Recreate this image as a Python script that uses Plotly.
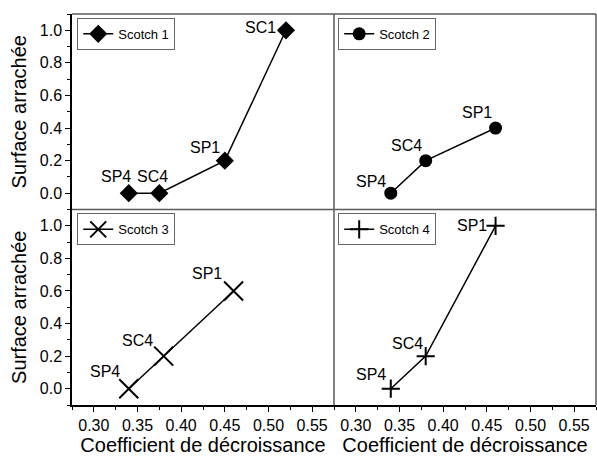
import plotly.graph_objects as go
from plotly.subplots import make_subplots

# ---- data ----
series_names = ["Scotch 1", "Scotch 2", "Scotch 3", "Scotch 4"]

s1_labels = ["SP4", "SC4", "SP1", "SC1"]
s1_x = [0.34, 0.375, 0.45, 0.52]
s1_y = [0.0, 0.0, 0.2, 1.0]

s2_labels = ["SP4", "SC4", "SP1"]
s2_x = [0.34, 0.38, 0.46]
s2_y = [0.0, 0.2, 0.4]

s3_labels = ["SP4", "SC4", "SP1"]
s3_x = [0.34, 0.38, 0.46]
s3_y = [0.0, 0.2, 0.6]

s4_labels = ["SP4", "SC4", "SP1"]
s4_x = [0.34, 0.38, 0.46]
s4_y = [0.0, 0.2, 1.0]

x_tick_vals = [0.30, 0.35, 0.40, 0.45, 0.50, 0.55]
x_tick_text = ["0.30", "0.35", "0.40", "0.45", "0.50", "0.55"]
y_tick_vals = [0.0, 0.2, 0.4, 0.6, 0.8, 1.0]
y_tick_text = ["0.0", "0.2", "0.4", "0.6", "0.8", "1.0"]

x_title = "Coefficient de décroissance"
y_title = "Surface arrachée"

FONT = "Liberation Sans, Arial, sans-serif"

fig = make_subplots(rows=2, cols=2, horizontal_spacing=0, vertical_spacing=0)

series = [
    (s1_x, s1_y, s1_labels, 1, 1, dict(symbol="diamond", size=14, color="black"), "legend",
     [(-13, 17), (-7, 17), (-20, 13), (-25, 3)]),
    (s2_x, s2_y, s2_labels, 1, 2, dict(symbol="circle", size=13, color="black"), "legend2",
     [(-20, 12), (-19, 15), (-19, 16)]),
    (s3_x, s3_y, s3_labels, 2, 1, dict(symbol="x-thin", size=19, color="black",
                                        line=dict(width=2, color="black")), "legend3",
     [(-24, 17), (-26, 16), (-27, 17)]),
    (s4_x, s4_y, s4_labels, 2, 2, dict(symbol="cross-thin", size=13, color="black",
                                        line=dict(width=2, color="black")), "legend4",
     [(-20, 14), (-18, 13), (-24, 0)]),
]

for i, (xs, ys, labs, r, c, mk, lg, offs) in enumerate(series):
    fig.add_trace(go.Scatter(x=xs, y=ys, mode="lines+markers", name=series_names[i],
                             line=dict(color="black", width=1.5), marker=mk,
                             legend=lg, showlegend=True), row=r, col=c)
    idx = i + 1
    xref = "x" if idx == 1 else f"x{idx}"
    yref = "y" if idx == 1 else f"y{idx}"
    for (xv, yv, lab, (dx, dy)) in zip(xs, ys, labs, offs):
        fig.add_annotation(x=xv, y=yv, xref=xref, yref=yref, text=lab, showarrow=False,
                           xshift=dx, yshift=dy, font=dict(family=FONT, size=16, color="black"))

axis_common = dict(range=[0.275, 0.575], showgrid=False, zeroline=False, automargin=False)
yaxis_common = dict(range=[-0.1, 1.1], showgrid=False, zeroline=False, automargin=False)

for r in (1, 2):
    for c in (1, 2):
        bottom = r == 2
        left = c == 1
        fig.update_xaxes(axis_common, row=r, col=c,
                         tickvals=x_tick_vals, ticktext=x_tick_text,
                         showticklabels=bottom,
                         ticks="outside" if bottom else "",
                         ticklen=5, tickwidth=1, tickcolor="black",
                         minor=dict(ticks="outside" if bottom else "", dtick=0.025, tick0=0.275,
                                    ticklen=3, tickcolor="black"),
                         showline=bottom, linecolor="black", linewidth=1.5,
                         tickfont=dict(family=FONT, size=16, color="black"),
                         title=dict(text=x_title if bottom else "",
                                    font=dict(family=FONT, size=20, color="black"), standoff=4))
        fig.update_yaxes(yaxis_common, row=r, col=c,
                         tickvals=y_tick_vals, ticktext=y_tick_text,
                         showticklabels=left,
                         ticks="outside" if left else "",
                         ticklen=5, tickwidth=1, tickcolor="black",
                         minor=dict(ticks="outside" if left else "", dtick=0.1, tick0=-0.1,
                                    ticklen=3, tickcolor="black"),
                         showline=left, linecolor="black", linewidth=1.5,
                         tickfont=dict(family=FONT, size=16, color="black"),
                         title=dict(text=y_title if left else "",
                                    font=dict(family=FONT, size=20, color="black"), standoff=8))

gray = "#5a5a5a"
for (x0, y0, x1, y1) in [(0.5, 0, 0.5, 1), (0, 0.5, 1, 0.5), (0, 1, 1, 1), (1, 0, 1, 1)]:
    fig.add_shape(type="line", xref="paper", yref="paper", x0=x0, y0=y0, x1=x1, y1=y1,
                  line=dict(color=gray, width=1.5))

leg_common = dict(bgcolor="white", bordercolor="#666666", borderwidth=1,
                  font=dict(family=FONT, size=13, color="black"),
                  xanchor="left", yanchor="top", itemsizing="trace",
                  tracegroupgap=0, itemwidth=30)
fig.update_layout(
    width=597, height=462,
    margin=dict(l=72, r=1, t=14, b=57, autoexpand=False),
    paper_bgcolor="white", plot_bgcolor="white",
    legend=dict(leg_common, x=0.01, y=0.99),
    legend2=dict(leg_common, x=0.508, y=0.99),
    legend3=dict(leg_common, x=0.01, y=0.49),
    legend4=dict(leg_common, x=0.508, y=0.49),
    font=dict(family=FONT, color="black"),
)

fig.write_html("out.html", config={"displayModeBar": False},
               post_script="document.body.style.margin='0';document.body.style.overflow='hidden';")
